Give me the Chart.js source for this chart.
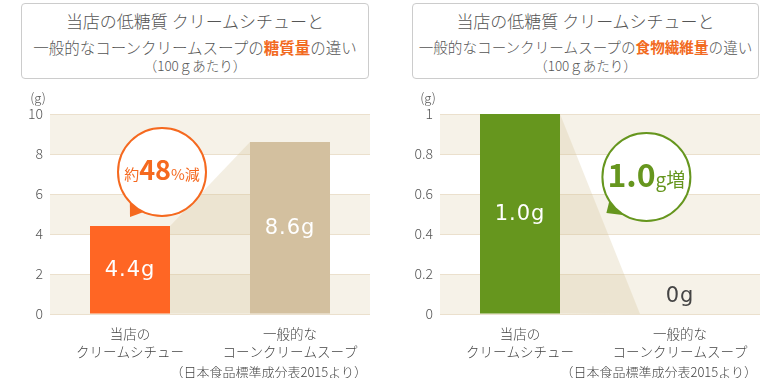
<!DOCTYPE html>
<html><head><meta charset="utf-8">
<script src="https://cdn.jsdelivr.net/npm/chart.js@4.4.1/dist/chart.umd.min.js"></script>
<style>
body{margin:0;width:780px;height:378px;overflow:hidden;background:#fff;font-family:"Noto Sans CJK JP",sans-serif;color:#555;position:relative;}
.box{position:absolute;top:3px;height:76px;border:1px solid #cccccc;border-radius:4px;box-sizing:border-box;}
.t{position:absolute;text-align:center;white-space:nowrap;color:#555;font-weight:300;}
.hl{color:#f26a21;font-weight:bold;}
.note{position:absolute;top:362px;height:20px;line-height:20px;font-size:13px;color:#444;white-space:nowrap;font-weight:300;}
canvas{position:absolute;top:0;}
</style>
</head><body>
<div class="box" style="left:21px;width:348px;"></div>
<div class="t" style="left:21px;width:348px;top:10px;font-size:17px;line-height:22px;">当店の低糖質 クリームシチューと</div>
<div class="t" style="left:21px;width:348px;top:36px;font-size:15.5px;line-height:22px;">一般的なコーンクリームスープの<span class="hl">糖質量</span>の違い</div>
<div class="t" style="left:21px;width:348px;top:55px;font-size:13.5px;line-height:20px;">（100ｇあたり）</div>

<div class="box" style="left:412px;width:347px;"></div>
<div class="t" style="left:412px;width:347px;top:10px;font-size:17px;line-height:22px;">当店の低糖質 クリームシチューと</div>
<div class="t" style="left:412px;width:347px;top:36px;font-size:14.6px;line-height:22px;">一般的なコーンクリームスープの<span class="hl">食物繊維量</span>の違い</div>
<div class="t" style="left:412px;width:347px;top:55px;font-size:13.5px;line-height:20px;">（100ｇあたり）</div>

<canvas id="c1" width="390" height="378" style="left:0"></canvas>
<canvas id="c2" width="390" height="378" style="left:390px"></canvas>

<div class="note" style="right:413px;">（日本食品標準成分表2015より）</div>
<div class="note" style="right:23px;">（日本食品標準成分表2015より）</div>

<script>
// ---- data ----
const categories = [["当店の", "クリームシチュー"], ["一般的な", "コーンクリームスープ"]];
const sugarValues = [4.4, 8.6];
const fiberValues = [1.0, 0];
const sugarTicks = [0, 2, 4, 6, 8, 10];
const sugarTickLabels = ["0", "2", "4", "6", "8", "10"];
const fiberTicks = [0, 0.2, 0.4, 0.6, 0.8, 1];
const fiberTickLabels = ["0", "0.2", "0.4", "0.6", "0.8", "1"];
const sugarBarLabels = ["4.4g", "8.6g"];
const fiberBarLabels = ["1.0g", "0g"];
const unitLabel = "(g)";
const sugarBubble = [["約", 15, "normal"], ["48", 27, "bold"], ["%減", 15, "normal"]];
const fiberBubble = [["1.0", 32, "bold"], ["g増", 19, "normal"]];

const FONT = "'Noto Sans CJK JP', sans-serif";
const NUMFONT = "'DejaVu Sans', sans-serif";

const deco = {
  id: 'deco',
  beforeDraw(chart) {
    const { ctx, chartArea: a, scales: { y } } = chart;
    const t = y.ticks.map(k => k.value);
    ctx.save();
    ctx.fillStyle = '#f6f2e8';
    for (let i = 0; i < t.length - 1; i++) {
      if (i % 2 === 0) {
        const y0 = y.getPixelForValue(t[i]), y1 = y.getPixelForValue(t[i + 1]);
        ctx.fillRect(a.left, y1, a.right - a.left, y0 - y1);
      }
    }
    ctx.restore();
  },
  beforeDatasetsDraw(chart) {
    const { ctx } = chart;
    const bars = chart.getDatasetMeta(0).data;
    const b0 = bars[0], b1 = bars[1];
    ctx.save();
    ctx.fillStyle = 'rgba(212,192,148,0.27)';
    ctx.beginPath();
    ctx.moveTo(b0.x + b0.width / 2, b0.y);
    ctx.lineTo(b1.x - b1.width / 2, b1.y);
    ctx.lineTo(b1.x - b1.width / 2, b1.base);
    ctx.lineTo(b0.x + b0.width / 2, b0.base);
    ctx.closePath();
    ctx.fill();
    ctx.restore();
  },
  afterDatasetsDraw(chart, args, o) {
    const { ctx, chartArea: a, scales: { x, y } } = chart;
    ctx.save();
    // unit label
    ctx.fillStyle = '#555';
    ctx.font = `300 13px ${FONT}`;
    ctx.textAlign = 'center';
    ctx.textBaseline = 'middle';
    ctx.fillText(unitLabel, a.left - 12, a.top - 16);
    // bar value labels
    const bars = chart.getDatasetMeta(0).data;
    ctx.letterSpacing = '1px';
    bars.forEach((b, i) => {
      ctx.font = `21px ${NUMFONT}`;
      ctx.textAlign = 'center';
      ctx.textBaseline = 'middle';
      if (b.base - b.y > 30) {
        ctx.fillStyle = '#fff';
        ctx.fillText(o.labels[i], b.x, (b.y + b.base) / 2 + 1);
      } else {
        ctx.fillStyle = '#444';
        ctx.fillText(o.labels[i], b.x, b.y - 17);
      }
    });
    ctx.letterSpacing = '0px';
    // bubble
    const bb = o.bubble;
    const cx = x.getPixelForValue(bb.xv), cy = y.getPixelForValue(bb.yv), r = 44;
    ctx.fillStyle = bb.color;
    ctx.beginPath();
    ctx.moveTo(cx + r * Math.cos(bb.a1), cy + r * Math.sin(bb.a1));
    ctx.lineTo(cx + bb.tip[0], cy + bb.tip[1]);
    ctx.lineTo(cx + r * Math.cos(bb.a2), cy + r * Math.sin(bb.a2));
    ctx.closePath();
    ctx.fill();
    ctx.beginPath();
    ctx.arc(cx, cy, r, 0, Math.PI * 2);
    ctx.fillStyle = '#fff';
    ctx.fill();
    ctx.lineWidth = 2;
    ctx.strokeStyle = bb.color;
    ctx.stroke();
    // text
    ctx.textAlign = 'left';
    ctx.textBaseline = 'alphabetic';
    let total = 0;
    const widths = bb.parts.map(p => {
      ctx.font = `${p[2]} ${p[1]}px ${FONT}`;
      const w = ctx.measureText(p[0]).width;
      total += w;
      return w;
    });
    let sx = cx - total / 2;
    ctx.fillStyle = bb.color;
    bb.parts.forEach((p, i) => {
      ctx.font = `${p[2]} ${p[1]}px ${FONT}`;
      ctx.fillText(p[0], sx, cy + bb.base);
      sx += widths[i];
    });
    ctx.restore();
  }
};

function makeChart(id, values, colors, max, ticks, tickLabels, labels, bubble) {
  return new Chart(document.getElementById(id), {
    type: 'bar',
    data: {
      labels: categories,
      datasets: [{ data: values, backgroundColor: colors, borderWidth: 0, barPercentage: 0.5, categoryPercentage: 1 }]
    },
    options: {
      responsive: false,
      animation: false,
      devicePixelRatio: 1,
      layout: { padding: { top: 114, right: 20, left: 0, bottom: 0 } },
      plugins: { legend: { display: false }, tooltip: { enabled: false }, deco: { labels, bubble } },
      scales: {
        x: {
          grid: { display: false },
          border: { display: false },
          ticks: { padding: 3, color: '#444', font: { family: FONT, size: 13.5, weight: '300', lineHeight: 1.35 }, maxRotation: 0 },
          afterFit: s => { s.height = 64; }
        },
        y: {
          min: 0, max: max,
          afterBuildTicks: s => { s.ticks = ticks.map(v => ({ value: v })); },
          ticks: { padding: 7, color: '#555', font: { family: FONT, size: 14, weight: '300' }, callback: (v, i) => tickLabels[i] },
          grid: { color: '#ebe0cd', drawTicks: false, lineWidth: 1 },
          border: { display: false },
          afterFit: s => { s.width = 50; }
        }
      }
    },
    plugins: [deco]
  });
}

makeChart('c1', sugarValues, ['#ff6624', '#d3c09f'], 10, sugarTicks, sugarTickLabels, sugarBarLabels,
  { xv: 0.2, yv: 7.1, color: '#f5691f', tip: [-32, 45], a1: 2.39, a2: 2.0, parts: sugarBubble, base: 8 });
makeChart('c2', fiberValues, ['#66961e', '#66961e'], 1, fiberTicks, fiberTickLabels, fiberBarLabels,
  { xv: 0.79, yv: 0.685, color: '#66961e', tip: [-40, 36], a1: 2.57, a2: 2.09, parts: fiberBubble, base: 10 });
</script>
</body></html>
